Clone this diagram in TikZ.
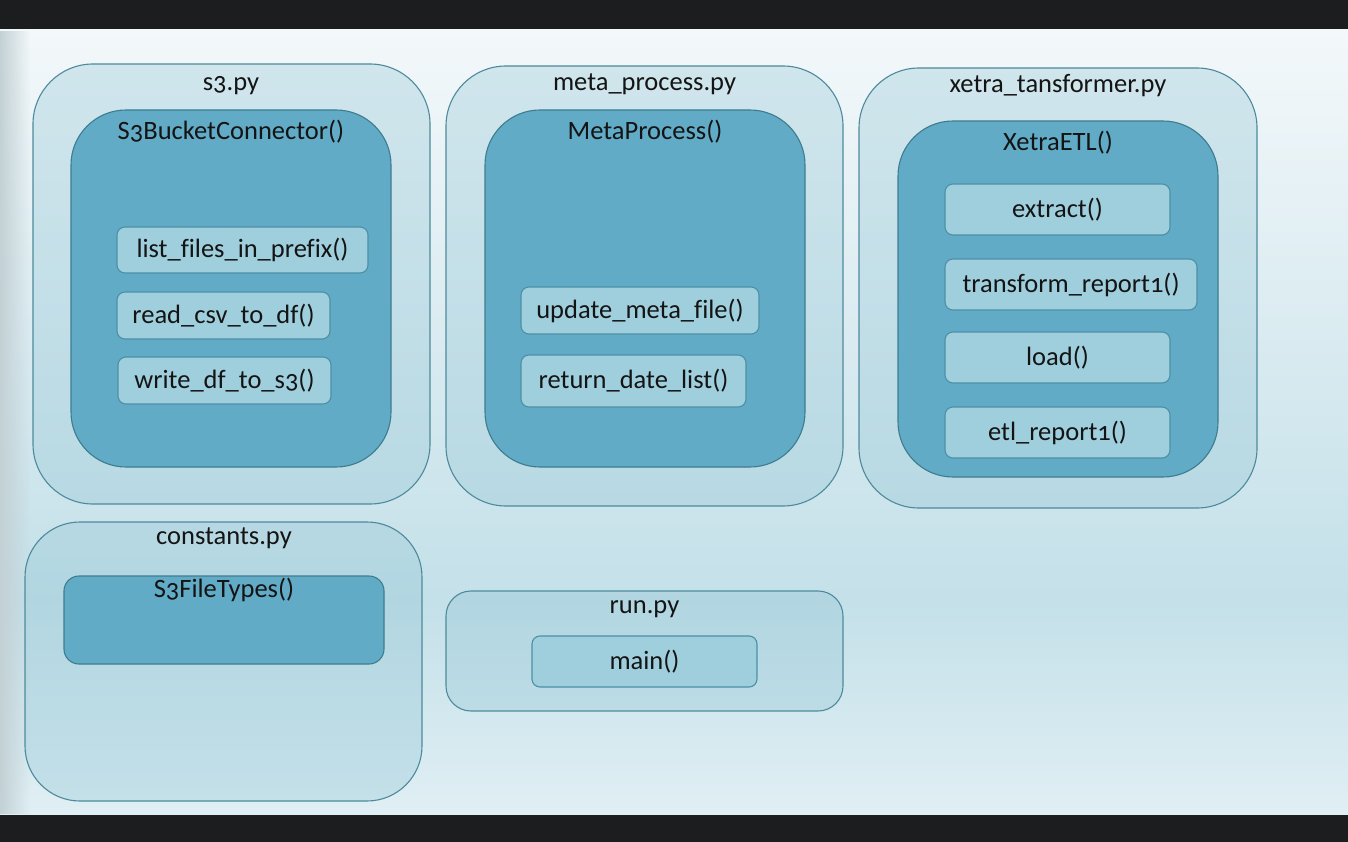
\documentclass[tikz,border=0pt]{standalone}
\usepackage{fontspec}
\setmainfont{Carlito}[Numbers=OldStyle, Ligatures=NoCommon]
\usetikzlibrary{fit,fadings}
\definecolor{barc}{HTML}{1C1D1F}
\definecolor{bgtop}{HTML}{F3F8FA}
\definecolor{bgmid}{HTML}{C4E0E9}
\definecolor{bgbot}{HTML}{E0EFF4}
\definecolor{edgec}{HTML}{C3D1D5}
\definecolor{filec}{HTML}{8EC3D3}
\definecolor{fileline}{HTML}{4E8A9C}
\definecolor{classc}{HTML}{61ABC6}
\definecolor{classline}{HTML}{3E7C90}
\definecolor{methc}{HTML}{9FCFDD}
\definecolor{methline}{HTML}{4B90A6}
\definecolor{inkc}{HTML}{141414}
\tikzset{
  filebox/.style={draw=fileline, fill=filec, fill opacity=0.32, draw opacity=1,
    line width=1.1pt, inner sep=0pt, rounded corners=#1},
  classbox/.style={draw=classline, fill=classc, line width=1.1pt, inner sep=0pt, rounded corners=#1},
  methbox/.style={draw=methline, fill=methc, line width=1.1pt, inner sep=0pt, rounded corners=8pt,
    font=\fontsize{26.5}{30}\selectfont, text=inkc},
  title/.style={anchor=base, inner sep=0pt, font=\fontsize{26.5}{30}\selectfont, text=inkc},
}
\begin{document}
\begin{tikzpicture}[x=1pt,y=-1pt]
\useasboundingbox (0,0) rectangle (1348,842);
% backdrop
\fill[barc] (0,0) rectangle (1348,842);
\shade[top color=bgtop, bottom color=bgmid] (0,30) rectangle (1348,600);
\shade[top color=bgmid, bottom color=bgbot] (0,600) rectangle (1348,814);
\fill[edgec, path fading=east] (0,30) rectangle (30,814);

% s3.py
\node[filebox=60pt, fit={(33,64) (430,504)}] (s3f) {};
\node[title] (s3ft) at (231,91) {s3.py};
\node[classbox=55pt, fit={(71,110) (391,467)}] (s3c) {};
\node[title] (s3ct) at (231,140) {S3BucketConnector()};
\node[methbox, minimum width=251pt, minimum height=46pt] (m11) at (242.5,250) {list\_files\_in\_prefix()};
\node[methbox, minimum width=213pt, minimum height=47pt] (m12) at (223.5,315.5) {read\_csv\_to\_df()};
\node[methbox, minimum width=213pt, minimum height=47pt] (m13) at (224.5,380.5) {write\_df\_to\_s3()};

% meta_process.py
\node[filebox=60pt, fit={(446,66) (843,506)}] (mpf) {};
\node[title] (mpft) at (644.5,91) {meta\_process.py};
\node[classbox=55pt, fit={(485,110) (805,467)}] (mpc) {};
\node[title] (mpct) at (645,140) {MetaProcess()};
\node[methbox, minimum width=238pt, minimum height=47pt] (m21) at (640,310.5) {update\_meta\_file()};
\node[methbox, minimum width=225pt, minimum height=52pt] (m22) at (633.5,381) {return\_date\_list()};

% xetra_tansformer.py
\node[filebox=60pt, fit={(859,68) (1257,508)}] (xtf) {};
\node[title] (xtft) at (1058,93) {xetra\_tansformer.py};
\node[classbox=55pt, fit={(898,121) (1218,477)}] (xtc) {};
\node[title] (xtct) at (1058,151) {XetraETL()};
\node[methbox, minimum width=225pt, minimum height=51pt] (m31) at (1057.5,209.5) {extract()};
\node[methbox, minimum width=252pt, minimum height=51pt] (m32) at (1071,284.5) {transform\_report1()};
\node[methbox, minimum width=225pt, minimum height=51pt] (m33) at (1057.5,357.5) {load()};
\node[methbox, minimum width=225pt, minimum height=51pt] (m34) at (1057.5,432.5) {etl\_report1()};

% constants.py
\node[filebox=55pt, fit={(25,522) (422,801)}] (cof) {};
\node[title] (coft) at (224,544) {constants.py};
\node[classbox=15pt, fit={(64,576) (384,664)}] (coc) {};
\node[title] (coct) at (224,597) {S3FileTypes()};

% run.py
\node[filebox=25pt, fit={(446,591) (843,711)}] (ruf) {};
\node[title] (ruft) at (644.5,613) {run.py};
\node[methbox, minimum width=225pt, minimum height=51pt] (m41) at (644.5,661.5) {main()};
\end{tikzpicture}
\end{document}
